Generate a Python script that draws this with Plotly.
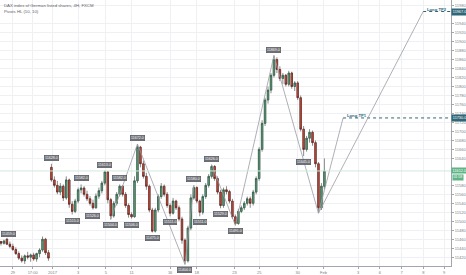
import plotly.graph_objects as go

# ---------------- data ----------------
opens = [11455,11451,11460,11449,11444,11437,11428,11418,11412,11423,
         11420,11425,11416,11428,11436,11460,11430,11620,11592,11580,
         11565,11578,11552,11592,11538,11522,11545,11570,11574,11560,
         11550,11540,11530,11556,11568,11585,11610,11548,11512,11540,
         11560,11578,11560,11535,11515,11510,11590,11665,11628,11600,
         11578,11525,11478,11525,11555,11578,11560,11535,11518,11545,
         11530,11505,11458,11412,11485,11552,11575,11545,11520,11555,
         11580,11600,11622,11595,11565,11535,11570,11566,11545,11510,
         11495,11522,11530,11540,11550,11540,11565,11595,11660,11718,
         11770,11792,11825,11860,11838,11818,11825,11805,11830,11800,
         11808,11775,11705,11660,11685,11698,11675,11628,11530,11578]
highs = [11456,11459,11463,11455,11450,11442,11433,11424,11426,11432,
         11428,11430,11430,11440,11466,11463,11436,11628,11600,11590,
         11585,11582,11600,11595,11545,11550,11575,11582,11578,11568,
         11556,11548,11562,11575,11590,11613,11612,11552,11545,11565,
         11582,11580,11565,11540,11520,11600,11672,11668,11635,11608,
         11582,11530,11530,11560,11585,11582,11565,11540,11552,11548,
         11535,11510,11462,11490,11560,11580,11578,11548,11560,11585,
         11605,11626,11625,11600,11570,11575,11578,11570,11550,11515,
         11528,11535,11545,11555,11555,11570,11600,11665,11725,11775,
         11800,11830,11869,11865,11845,11830,11828,11835,11833,11812,
         11812,11780,11712,11690,11705,11702,11680,11632,11585,11640]
lows = [11446,11448,11447,11440,11434,11425,11414,11408,11405,11415,
        11410,11412,11410,11420,11432,11425,11412,11588,11575,11560,
        11558,11545,11548,11530,11515,11518,11540,11562,11555,11545,
        11535,11526,11528,11550,11562,11580,11540,11504,11508,11535,
        11555,11555,11530,11508,11506,11508,11585,11620,11595,11570,
        11520,11475,11475,11520,11550,11555,11530,11511,11515,11525,
        11500,11450,11404,11408,11480,11548,11540,11511,11515,11550,
        11575,11595,11590,11560,11529,11530,11560,11540,11505,11491,
        11492,11518,11525,11535,11530,11535,11560,11590,11655,11712,
        11762,11785,11820,11830,11812,11805,11800,11800,11795,11790,
        11770,11700,11645,11655,11675,11668,11620,11518,11525,11572]
closes = [11451,11456,11449,11444,11437,11428,11418,11412,11423,11420,
          11425,11416,11428,11436,11460,11430,11418,11592,11580,11565,
          11578,11552,11592,11538,11522,11545,11570,11574,11560,11550,
          11540,11530,11556,11568,11585,11610,11548,11512,11540,11560,
          11578,11560,11535,11515,11510,11590,11665,11628,11600,11578,
          11525,11478,11525,11555,11578,11560,11535,11518,11545,11530,
          11505,11458,11412,11485,11552,11575,11545,11520,11555,11580,
          11600,11622,11595,11565,11535,11570,11566,11545,11510,11495,
          11522,11530,11540,11550,11540,11565,11595,11660,11718,11770,
          11792,11825,11860,11838,11818,11825,11805,11830,11800,11808,
          11775,11705,11660,11685,11698,11675,11628,11530,11578,11612]
bars = list(range(len(closes)))

# pivots (bar index, H/L)
pivot_bars = [1, 17, 27, 35, 40, 46, 65, 71, 92,
              24, 31, 37, 44, 51, 57, 62, 67, 74, 79, 102]
pivot_kind = ["H"] * 9 + ["L"] * 11

# zig-zag drawing segments (bar, H/L)
zigzag_a = [(37, "L"), (46, "H"), (62, "L"), (65, "H")]
zigzag_b = [(71, "H"), (79, "L"), (92, "H"), (107, "L")]

# targets
tp_names = ["Long TP1", "Long TP2"]
tp_prices = [11730.0, 11967.0]
tp_bars = [115.3, 142.3]

last_price = 11612.0
timer_text = "01:58"

# x-axis labels
xtick_text = ["29", "17:00", "2017", "3", "5", "11", "16", "18", "23", "25",
              "30", "Feb", "3", "6", "7", "8", "9"]
xtick_vals = [4, 10.67, 17.33, 26, 35.33, 44, 57, 66, 78.67, 87,
              100, 108.67, 120.33, 127.67, 135, 142.33, 149.33]

# ---------------- styling ----------------
UP_FILL, DN_FILL = "#6ba583", "#d75442"
UP_LINE, DN_LINE = "#225437", "#5b1a13"
WICK = "#8a8b90"
TEAL = "#2f6678"
GRID = "#eef0f3"
TXT = "#7b7e85"
FONT = "Liberation Sans"
Y0, Y1, DY = 11400.4, 11992.6, 20

fig = go.Figure()

# wicks
fig.add_trace(go.Candlestick(
    x=bars, open=opens, high=highs, low=lows, close=closes,
    increasing=dict(line=dict(color=WICK, width=1), fillcolor=UP_FILL),
    decreasing=dict(line=dict(color=WICK, width=1), fillcolor=DN_FILL),
    whiskerwidth=0, showlegend=False, hoverinfo="skip"))
# bodies
body_hi = [max(o, c) for o, c in zip(opens, closes)]
body_lo = [min(o, c) for o, c in zip(opens, closes)]
fig.add_trace(go.Candlestick(
    x=bars, open=opens, high=body_hi, low=body_lo, close=closes,
    increasing=dict(line=dict(color=UP_LINE, width=0.6), fillcolor=UP_FILL),
    decreasing=dict(line=dict(color=DN_LINE, width=0.6), fillcolor=DN_FILL),
    whiskerwidth=0, showlegend=False, hoverinfo="skip"))

def pv(b, k):
    return highs[b] if k == "H" else lows[b]

for seg in (zigzag_a, zigzag_b):
    fig.add_trace(go.Scatter(
        x=[b for b, k in seg], y=[pv(b, k) for b, k in seg], mode="lines",
        line=dict(color="#9a9ca3", width=0.8), showlegend=False, hoverinfo="skip"))

# projection lines to targets
low_b = zigzag_b[-1][0]
for tb, tpp in zip(tp_bars, tp_prices):
    fig.add_trace(go.Scatter(
        x=[low_b, tb], y=[lows[low_b], tpp], mode="lines",
        line=dict(color="#9a9ca3", width=0.8), showlegend=False, hoverinfo="skip"))
    fig.add_trace(go.Scatter(
        x=[tb, 151.67], y=[tpp, tpp], mode="lines",
        line=dict(color=TEAL, width=1, dash="dot"), showlegend=False, hoverinfo="skip"))

# last price line
fig.add_hline(y=last_price, line=dict(color="#cfe9da", width=1))

ann = []
for b, k in zip(pivot_bars, pivot_kind):
    p = pv(b, k)
    a = dict(x=b, y=p, xref="x", yref="y", text=f"{p:.1f}", showarrow=False,
             yshift=6 if k == "H" else -6, font=dict(size=3.6, color="white", family=FONT),
             bgcolor="#6c6f76", bordercolor="#4a4c52", borderwidth=0.5, borderpad=0.5)
    if b == 1:
        a.update(xanchor="left", xshift=-3)
    ann.append(a)
for name, tb, tpp in zip(tp_names, tp_bars, tp_prices):
    ann.append(dict(x=tb, y=tpp, xref="x", yref="y", text=f"<b>{name}</b>", showarrow=False,
                    xanchor="left", xshift=2, yshift=2,
                    font=dict(size=4.2, color=TEAL, family=FONT)))
    ann.append(dict(x=1.0, y=tpp, xref="paper", yref="y", text=f"{tpp:.1f}", showarrow=False,
                    xanchor="left", font=dict(size=3.8, color="white", family=FONT),
                    bgcolor=TEAL, borderpad=0.8))
ann.append(dict(x=1.0, y=last_price, xref="paper", yref="y", text=f"{last_price:.1f}",
                showarrow=False, xanchor="left", yanchor="bottom", yshift=-3,
                font=dict(size=3.8, color="white", family=FONT),
                bgcolor="#5fb486", borderpad=0.6))
ann.append(dict(x=1.0, y=last_price, xref="paper", yref="y", text=timer_text,
                showarrow=False, xanchor="left", yanchor="top", yshift=-3.5, xshift=1,
                font=dict(size=3.5, color="white", family=FONT),
                bgcolor="#5fb486", borderpad=0.4))
ann.append(dict(x=0.004, y=0.995, xref="paper", yref="paper", xanchor="left", yanchor="top",
                text="DAX index of German listed shares, 4H, FXCM<br>Pivots HL (10, 10)",
                showarrow=False, align="left", font=dict(size=4.3, color="#5d6068", family=FONT)))

# y ticks, hiding the ones covered by price tags
ytick_vals = []
v = 11400
while v <= Y1:
    clear_tp = all(abs(v - t) > 8 for t in tp_prices)
    clear_last = (v - last_price) > 8 or (last_price - v) > 16
    if clear_tp and clear_last:
        ytick_vals.append(v)
    v += DY

fig.update_layout(
    width=466, height=275,
    margin=dict(l=0, r=10, t=0, b=7),
    paper_bgcolor="white", plot_bgcolor="white",
    annotations=ann, showlegend=False,
    xaxis=dict(range=[-0.333, 151.67], tickvals=xtick_vals, ticktext=xtick_text,
               showgrid=True, gridcolor=GRID, gridwidth=1, zeroline=False,
               showline=True, linecolor="#a3a6ad", linewidth=1,
               ticks="outside", ticklen=2, tickcolor="#a3a6ad",
               tickfont=dict(size=4, color=TXT, family=FONT),
               rangeslider=dict(visible=False)),
    yaxis=dict(range=[Y0, Y1], side="right", tickvals=ytick_vals,
               showgrid=True, gridcolor=GRID, gridwidth=1, zeroline=False,
               showline=True, linecolor="#a3a6ad", linewidth=1,
               ticks="outside", ticklen=2, tickcolor="#a3a6ad",
               tickformat=".0f",
               tickfont=dict(size=4, color=TXT, family=FONT)),
)

fig.write_html("out.html")
